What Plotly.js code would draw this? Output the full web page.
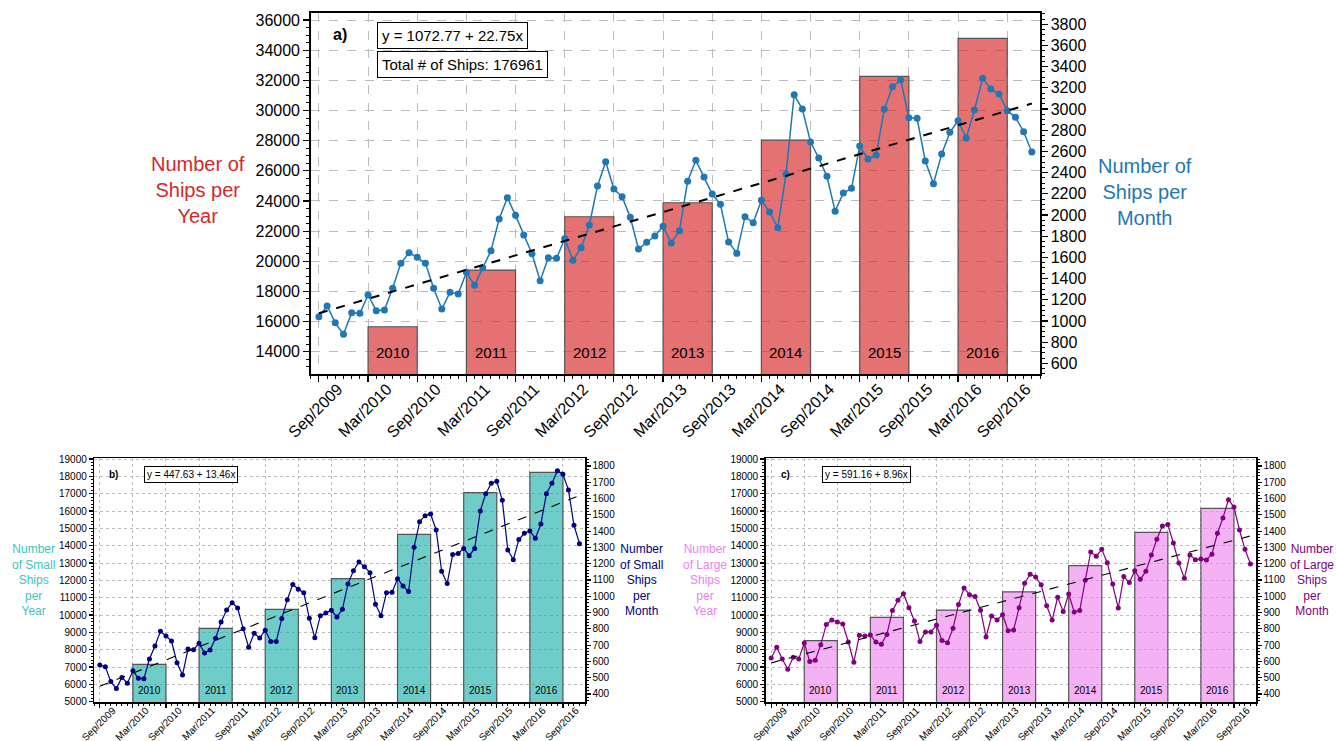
<!DOCTYPE html>
<html><head><meta charset="utf-8">
<script src="https://cdn.plot.ly/plotly-3.0.1.min.js"></script>
<style>html,body{margin:0;padding:0;background:#fff}#chart{width:1336px;height:741px}</style>
</head><body><div id="chart"></div>
<script>
// ---------- data ----------
const monthTickLabels = ['Sep/2009','Mar/2010','Sep/2010','Mar/2011','Sep/2011','Mar/2012','Sep/2012',
  'Mar/2013','Sep/2013','Mar/2014','Sep/2014','Mar/2015','Sep/2015','Mar/2016','Sep/2016'];
const years = [2010, 2011, 2012, 2013, 2014, 2015, 2016];

const allMonthly = [1040,1141,983,874,1078,1072,1245,1097,1103,1308,
  1544,1644,1601,1544,1308,1113,1270,1254,1459,1336,
  1503,1663,1962,2163,1997,1811,1635,1380,1597,1591,
  1776,1572,1691,1906,2274,2503,2245,2173,1978,1679,
  1742,1802,1893,1736,1852,2318,2516,2359,2198,2101,
  1745,1638,1984,1927,2139,2028,1880,2384,3135,3000,
  2689,2538,2365,2035,2208,2252,2651,2529,2566,2998,
  3211,3274,2919,2913,2510,2296,2576,2780,2890,2727,
  2991,3290,3189,3142,2985,2922,2786,2595];
const allYearly = [15658,19418,22952,23881,28038,32263,34782];

const smallMonthly = [578,568,476,433,502,466,543,496,494,615,
  695,785,756,725,592,517,676,672,711,652,
  670,742,842,916,961,928,801,687,773,744,
  791,723,723,863,979,1073,1043,1022,865,746,
  881,897,914,873,920,1075,1157,1211,1182,1145,
  951,881,1022,1024,1108,1063,1030,1301,1458,1495,
  1505,1407,1153,1078,1256,1262,1294,1249,1294,1524,
  1630,1694,1706,1589,1284,1225,1348,1387,1401,1356,
  1444,1630,1694,1771,1749,1653,1436,1323];
const smallYearly = [7154,9231,10327,12096,14654,17058,18231];

const largeMonthly = [621,687,615,552,625,615,713,599,607,703,
  826,854,842,830,719,595,760,756,762,719,
  705,766,912,975,1016,930,848,723,781,781,
  822,728,715,803,949,1051,1010,998,914,750,
  879,854,887,789,793,930,1080,1135,1119,1071,
  942,854,994,906,1014,904,912,1098,1272,1245,
  1288,1206,1076,928,1121,1084,1157,1104,1153,1254,
  1350,1432,1440,1327,1204,1110,1254,1225,1229,1223,
  1258,1387,1481,1593,1548,1407,1288,1198];
const largeYearly = [8519,9865,10288,11330,12846,14769,16154];

const allTrend = [1072.77, 22.75];
const smallTrend = [447.63, 13.46];
const largeTrend = [591.16, 8.96];
const totalShips = 176961;

// ---------- helpers ----------
const FONT = 'Liberation Sans, Arial, Helvetica, sans-serif';
const monthIdx = allMonthly.map((_, i) => i);          // 0 = Sep/2009
const tickIdx = monthTickLabels.map((_, i) => i * 6);
const yearCenters = years.map(y => (y - 2010) * 12 + 9); // June of each year
const W = 1336, H = 741;
const px = v => v / W, py = v => (H - v) / H;

const traces = [];
const layout = {
  width: W, height: H, margin: {l: 0, r: 0, t: 0, b: 0},
  paper_bgcolor: '#fff', plot_bgcolor: '#fff', showlegend: false,
  font: {family: FONT, color: '#000'}, bargap: 0, annotations: []
};

function panel(p) {
  const xa = p.xn === 1 ? 'x' : 'x' + p.xn;
  const yl = p.yl === 1 ? 'y' : 'y' + p.yl;
  const yr = 'y' + p.yr;
  traces.push({type: 'bar', x: yearCenters, y: p.yearly, width: 6, xaxis: xa, yaxis: yl,
    marker: {color: p.barColor, line: {color: '#555555', width: 1.2}}, hoverinfo: 'none'});
  traces.push({type: 'scatter', mode: 'lines+markers', x: monthIdx, y: p.monthly, xaxis: xa, yaxis: yr,
    line: {color: p.lineColor, width: p.lw}, marker: {color: p.lineColor, size: p.ms}, hoverinfo: 'none'});
  const n = p.monthly.length - 1;
  traces.push({type: 'scatter', mode: 'lines', x: [0, n], y: [p.trend[0], p.trend[0] + p.trend[1] * n],
    xaxis: xa, yaxis: yr, line: {color: '#000', width: p.tw, dash: 'dash'}, hoverinfo: 'none'});

  const common = {showline: true, linecolor: '#000', linewidth: 1.5, zeroline: false,
    ticks: 'outside', tickcolor: '#000', tickwidth: 1.2, ticklen: p.tl,
    tickfont: {size: p.fs, color: '#000', family: FONT}};
  layout[xa === 'x' ? 'xaxis' : 'xaxis' + p.xn] = Object.assign({}, common, {
    domain: [px(p.x0), px(p.x1)], anchor: yl, range: [-1, 88],
    tickmode: 'array', tickvals: tickIdx, ticktext: monthTickLabels, tickangle: -45,
    ticklabelshift: p.shift, ticklabelstandoff: p.standoff,
    mirror: true, showgrid: true, gridcolor: '#bdbdbd', griddash: p.gd, gridwidth: 1,
    minor: {dtick: 1, tick0: 0, ticks: 'outside', ticklen: p.tl / 2, tickcolor: '#000', tickwidth: 1}
  });
  layout[yl === 'y' ? 'yaxis' : 'yaxis' + p.yl] = Object.assign({}, common, {
    domain: [py(p.y1), py(p.y0)], anchor: xa, range: p.lr, dtick: p.ld, tick0: 0, tickformat: 'd',
    showgrid: true, gridcolor: '#bdbdbd', griddash: p.gd, gridwidth: 1,
    minor: {dtick: p.lm, tick0: 0, ticks: 'outside', ticklen: p.tl / 2, tickcolor: '#000', tickwidth: 1}
  });
  layout['yaxis' + p.yr] = Object.assign({}, common, {
    overlaying: yl, side: 'right', anchor: xa, range: p.rr, dtick: p.rd, tick0: 0, tickformat: 'd', showgrid: false,
    minor: {dtick: p.rm, tick0: 0, ticks: 'outside', ticklen: p.tl / 2, tickcolor: '#000', tickwidth: 1}
  });

  years.forEach((y, i) => layout.annotations.push({xref: xa, yref: 'paper', x: yearCenters[i], y: py(p.yearLabelY),
    text: String(y), showarrow: false, font: {size: p.yfs, color: '#000'}, xanchor: 'center', yanchor: 'middle'}));
  layout.annotations.push({xref: 'paper', yref: 'paper', x: px(p.lab[0]), y: py(p.lab[1]), text: '<b>' + p.letter + '</b>',
    showarrow: false, font: {size: p.lfs, color: '#000'}, xanchor: 'center', yanchor: 'middle'});
  const eq = 'y = ' + p.trend[0].toFixed(2) + ' + ' + p.trend[1].toFixed(2) + 'x';
  layout.annotations.push({xref: 'paper', yref: 'paper', x: px(p.eq[0]), y: py(p.eq[1]), text: eq, showarrow: false,
    font: {size: p.efs, color: '#000'}, xanchor: 'left', yanchor: 'middle', bgcolor: '#fff',
    bordercolor: '#000', borderwidth: 1, borderpad: p.bp});
  layout.annotations.push({xref: 'paper', yref: 'paper', x: px(p.lt[0]), y: py(p.lt[1]), text: p.leftTitle,
    showarrow: false, font: {size: p.tfs, color: p.leftTitleColor}, align: 'center', xanchor: 'center', yanchor: 'middle'});
  layout.annotations.push({xref: 'paper', yref: 'paper', x: px(p.rt[0]), y: py(p.rt[1]), text: p.rightTitle,
    showarrow: false, font: {size: p.tfs, color: p.rightTitleColor}, align: 'center', xanchor: 'center', yanchor: 'middle'});
}

panel({xn: 1, yl: 1, yr: 2, monthly: allMonthly, yearly: allYearly, trend: allTrend, letter: 'a)',
  barColor: 'rgba(214,39,40,0.65)', lineColor: '#1f77b4', lw: 1.5, ms: 7, tw: 2,
  x0: 310.7, x1: 1040, y0: 12.7, y1: 374, lr: [12525, 36484], ld: 2000, lm: 500,
  rr: [499.5, 3909.5], rd: 200, rm: 50, fs: 16, tl: 6, shift: 19, standoff: -8, gd: 'dash',
  yearLabelY: 352, yfs: 15, lab: [340, 34.5], lfs: 16, eq: [376.7, 35.8], efs: 15, bp: 4,
  lt: [198, 189.5], rt: [1145, 192], tfs: 20,
  leftTitle: 'Number of<br>Ships per<br>Year', leftTitleColor: '#d62728',
  rightTitle: 'Number of<br>Ships per<br>Month', rightTitleColor: '#1f77b4'});

layout.annotations.push({xref: 'paper', yref: 'paper', x: px(376.7), y: py(64.5),
  text: 'Total # of Ships: ' + totalShips, showarrow: false, font: {size: 15, color: '#000'},
  xanchor: 'left', yanchor: 'middle', bgcolor: '#fff', bordercolor: '#000', borderwidth: 1, borderpad: 4});

panel({xn: 2, yl: 3, yr: 4, monthly: smallMonthly, yearly: smallYearly, trend: smallTrend, letter: 'b)',
  barColor: 'rgba(32,178,170,0.65)', lineColor: '#000080', lw: 1.2, ms: 5, tw: 1.1,
  x0: 94.3, x1: 585, y0: 458, y1: 702.3, lr: [4965, 19058], ld: 1000, lm: 200,
  rr: [349, 1849], rd: 100, rm: 20, fs: 10, tl: 4, shift: 13, standoff: -7, gd: 'dot',
  yearLabelY: 690.7, yfs: 10, lab: [113.3, 474], lfs: 10, eq: [144.3, 474], efs: 10, bp: 2,
  lt: [33, 580], rt: [641.7, 580], tfs: 12,
  leftTitle: 'Number<br>of Small<br>Ships<br>per<br>Year', leftTitleColor: '#3cc4bc',
  rightTitle: 'Number<br>of Small<br>Ships<br>per<br>Month', rightTitleColor: '#000080'});

panel({xn: 3, yl: 5, yr: 6, monthly: largeMonthly, yearly: largeYearly, trend: largeTrend, letter: 'c)',
  barColor: 'rgba(238,130,238,0.62)', lineColor: '#800080', lw: 1.2, ms: 5, tw: 1.1,
  x0: 765.7, x1: 1256, y0: 458, y1: 702.3, lr: [4965, 19058], ld: 1000, lm: 200,
  rr: [349, 1849], rd: 100, rm: 20, fs: 10, tl: 4, shift: 13, standoff: -7, gd: 'dot',
  yearLabelY: 690.7, yfs: 10, lab: [785.7, 474], lfs: 10, eq: [821.7, 474], efs: 10, bp: 2,
  lt: [705, 580], rt: [1311.7, 580], tfs: 12,
  leftTitle: 'Number<br>of Large<br>Ships<br>per<br>Year', leftTitleColor: '#ee82ee',
  rightTitle: 'Number<br>of Large<br>Ships<br>per<br>Month', rightTitleColor: '#800080'});

Plotly.newPlot('chart', traces, layout, {staticPlot: true, displayModeBar: false});
</script>
</body></html>
